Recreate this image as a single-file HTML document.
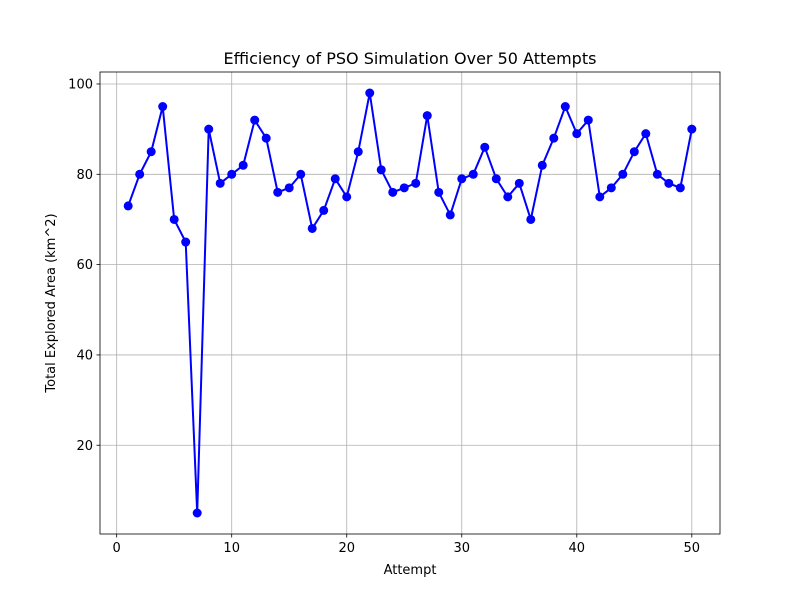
<!DOCTYPE html>
<html><head><meta charset="utf-8"><style>
body{margin:0;background:#fff}
svg text{font-family:"DejaVu Sans","Liberation Sans",sans-serif;fill:#000}
</style></head><body>
<svg id="chart" width="800" height="600" xmlns="http://www.w3.org/2000/svg">
<rect width="800" height="600" fill="#fff"/>
<g id="grid"></g>
<g id="axes"></g>
<g id="series"></g>
<rect x="100" y="72" width="620" height="462" fill="none" stroke="#000" stroke-width="0.8"/>
<text x="410" y="64" text-anchor="middle" font-size="16">Efficiency of PSO Simulation Over 50 Attempts</text>
<text x="410" y="574" text-anchor="middle" font-size="13">Attempt</text>
<text transform="translate(55,303) rotate(-90)" text-anchor="middle" font-size="13">Total Explored Area (km^2)</text>
</svg>
<script>
const values=[73,80,85,95,70,65,5,90,78,80,82,92,88,76,77,80,68,72,79,75,85,98,81,76,77,78,93,76,71,79,80,86,79,75,78,70,82,88,95,89,92,75,77,80,85,89,80,78,77,90];
const xTicks=[0,10,20,30,40,50];
const yTicks=[20,40,60,80,100];
const L=100,R=720,T=72,B=534;
const xmin=-1.45,xmax=52.45,ymin=0.35,ymax=102.65;
const sx=v=>L+(v-xmin)/(xmax-xmin)*(R-L);
const sy=v=>B-(v-ymin)/(ymax-ymin)*(B-T);
const NS="http://www.w3.org/2000/svg";
const g=document.getElementById('grid'),a=document.getElementById('axes'),s=document.getElementById('series');
function mk(tag,attrs,parent){const e=document.createElementNS(NS,tag);for(const k in attrs)e.setAttribute(k,attrs[k]);parent.appendChild(e);return e;}
xTicks.forEach(t=>{
 const x=sx(t);
 const gl=mk('line',{x1:x,x2:x,y1:T,y2:B,stroke:'#b0b0b0','stroke-width':0.8},g);
 
 
 mk('line',{x1:x,x2:x,y1:B,y2:B+3.5,stroke:'#000','stroke-width':0.8},a);
 const tx=mk('text',{x:x,y:B+18,'text-anchor':'middle','font-size':13},a);
 tx.textContent=t;
 
 
});
yTicks.forEach(t=>{
 const y=sy(t);
 const gl=mk('line',{x1:L,x2:R,y1:y,y2:y,stroke:'#b0b0b0','stroke-width':0.8},g);
 
 
 mk('line',{x1:L-3.5,x2:L,y1:y,y2:y,stroke:'#000','stroke-width':0.8},a);
 const tx=mk('text',{x:L-7,y:y+4.5,'text-anchor':'end','font-size':13},a);
 tx.textContent=t;
 
 
});
const pts=values.map((v,i)=>sx(i+1)+','+sy(v)).join(' ');
const pl=mk('polyline',{points:pts,fill:'none',stroke:'#0000ff','stroke-width':2},s);


values.forEach((v,i)=>{
 const c=mk('circle',{cx:sx(i+1),cy:sy(v),r:4.5,fill:'#0000ff'},s);
 
 
});
</script>
</body></html>
